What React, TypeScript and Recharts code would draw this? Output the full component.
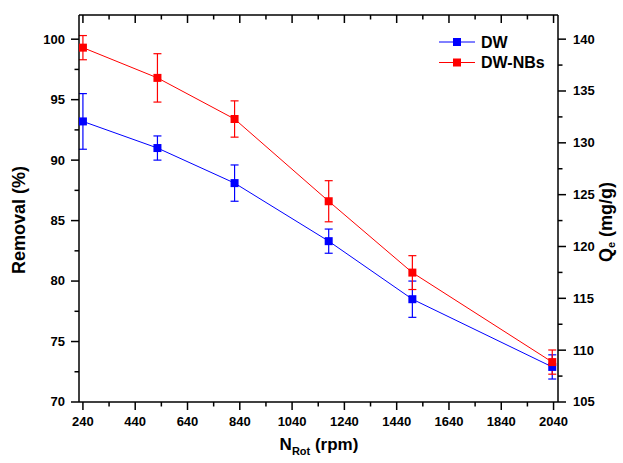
import { ComposedChart, Line, XAxis, YAxis, ErrorBar, Legend } from "recharts"

const rpm = [240, 525, 820, 1180, 1500, 2035]
const dwRemoval = [93.2, 91.0, 88.1, 83.3, 78.5, 72.9]
const dwError = [2.3, 1.0, 1.5, 1.0, 1.5, 1.0]
const nbRemoval = [99.3, 96.8, 93.4, 86.6, 80.7, 73.3]
const nbError = [1.0, 2.0, 1.5, 1.7, 1.4, 1.0]

const seriesNames = ["DW", "DW-NBs"]
const seriesColors = ["#0000ff", "#ff0000"]

const xTicks = [240, 340, 440, 540, 640, 740, 840, 940, 1040, 1140, 1240, 1340, 1440, 1540, 1640, 1740, 1840, 1940, 2040]
const removalTicks = [70, 72.5, 75, 77.5, 80, 82.5, 85, 87.5, 90, 92.5, 95, 97.5, 100]
const qeTicks = [105, 107.5, 110, 112.5, 115, 117.5, 120, 122.5, 125, 127.5, 130, 132.5, 135, 137.5, 140]

const FONT = "Arial, 'Liberation Sans', sans-serif"
const MAJOR = 8
const MINOR = 4.5

const data = rpm.map((x, i) => ({
  x,
  dw: dwRemoval[i],
  dwErr: dwError[i],
  nb: nbRemoval[i],
  nbErr: nbError[i],
}))

const isMajorX = (v: number) => (v - 240) % 200 === 0
const isMajorY = (v: number) => v % 5 === 0

function BottomTick({ x, y, payload }: any) {
  const major = isMajorX(payload.value)
  return (
    <g>
      <line x1={x} x2={x} y1={y} y2={y + (major ? MAJOR : MINOR)} stroke="#000" strokeWidth={1.5} />
      {major && (
        <text x={x} y={y + 24} textAnchor="middle" fontSize={13} fontWeight="bold" fontFamily={FONT} fill="#000">
          {payload.value}
        </text>
      )}
    </g>
  )
}

function TopTick({ x, y, payload }: any) {
  const major = isMajorX(payload.value)
  return <line x1={x} x2={x} y1={y} y2={y + (major ? MAJOR : MINOR)} stroke="#000" strokeWidth={1.5} />
}

function LeftTick({ x, y, payload }: any) {
  const major = isMajorY(payload.value)
  return (
    <g>
      <line x1={x} x2={x - (major ? MAJOR : MINOR)} y1={y} y2={y} stroke="#000" strokeWidth={1.5} />
      {major && (
        <text x={x - 14} y={y} dy="0.34em" textAnchor="end" fontSize={13} fontWeight="bold" fontFamily={FONT} fill="#000">
          {payload.value}
        </text>
      )}
    </g>
  )
}

function RightTick({ x, y, payload }: any) {
  const major = isMajorY(payload.value)
  return (
    <g>
      <line x1={x} x2={x + (major ? MAJOR : MINOR)} y1={y} y2={y} stroke="#000" strokeWidth={1.5} />
      {major && (
        <text x={x + 15} y={y} dy="0.34em" textAnchor="start" fontSize={13} fontWeight="bold" fontFamily={FONT} fill="#000">
          {payload.value}
        </text>
      )}
    </g>
  )
}

const squareDot = (color: string) => (props: any) => {
  const { cx, cy, index } = props
  if (cx == null || cy == null) return <g key={index} />
  return <rect key={index} x={cx - 4} y={cy - 4} width={8} height={8} fill={color} />
}

function LegendBox() {
  return (
    <svg width={130} height={44}>
      {seriesNames.map((name, i) => {
        const cy = 10 + i * 20.5
        return (
          <g key={name}>
            <line x1={3} x2={39} y1={cy} y2={cy} stroke={seriesColors[i]} strokeWidth={1} />
            <rect x={17} y={cy - 4} width={8} height={8} fill={seriesColors[i]} />
            <text x={45} y={cy} dy="0.35em" fontSize={16} fontWeight="bold" fontFamily={FONT} fill="#000">
              {name}
            </text>
          </g>
        )
      })}
    </svg>
  )
}

export default function App() {
  return (
    <div style={{ position: "absolute", left: 0, top: 0, width: 623, height: 463, background: "#fff" }}>
      <ComposedChart width={623} height={463} data={data} margin={{ top: 0, right: 0, bottom: 0, left: 0 }}>
        <XAxis
          dataKey="x"
          type="number"
          domain={[225, 2057]}
          allowDataOverflow
          ticks={xTicks}
          interval={0}
          height={61}
          tickSize={0}
          tickMargin={0}
          tickLine={false}
          tick={<BottomTick />}
          axisLine={{ stroke: "#000", strokeWidth: 1.5 }}
          label={{
            content: () => (
              <text x={319} y={450} textAnchor="middle" fontSize={17} fontWeight="bold" fontFamily={FONT} fill="#000">
                N
                <tspan fontSize={11} dy={5}>Rot</tspan>
                <tspan dy={-5}> (rpm)</tspan>
              </text>
            ),
          }}
        />
        <XAxis
          xAxisId="top"
          orientation="top"
          dataKey="x"
          type="number"
          domain={[225, 2057]}
          allowDataOverflow
          ticks={xTicks}
          interval={0}
          height={15}
          tickSize={0}
          tickMargin={0}
          tickLine={false}
          tick={<TopTick />}
          axisLine={{ stroke: "#000", strokeWidth: 1.5 }}
        />
        <YAxis
          yAxisId="left"
          type="number"
          domain={[70, 102]}
          allowDataOverflow
          ticks={removalTicks}
          interval={0}
          width={79}
          tickSize={0}
          tickMargin={0}
          tickLine={false}
          tick={<LeftTick />}
          axisLine={{ stroke: "#000", strokeWidth: 1.5 }}
          label={{
            content: () => (
              <text
                x={19}
                y={220}
                transform="rotate(-90, 19, 220)"
                textAnchor="middle"
                dominantBaseline="central"
                fontSize={18}
                fontWeight="bold"
                fontFamily={FONT}
                fill="#000"
              >
                Removal (%)
              </text>
            ),
          }}
        />
        <YAxis
          yAxisId="right"
          orientation="right"
          type="number"
          domain={[105, 142.33]}
          allowDataOverflow
          ticks={qeTicks}
          interval={0}
          width={65}
          tickSize={0}
          tickMargin={0}
          tickLine={false}
          tick={<RightTick />}
          axisLine={{ stroke: "#000", strokeWidth: 1.5 }}
          label={{
            content: () => (
              <text
                x={606}
                y={222}
                transform="rotate(-90, 606, 222)"
                textAnchor="middle"
                dominantBaseline="central"
                fontSize={18}
                fontWeight="bold"
                fontFamily={FONT}
                fill="#000"
              >
                Q
                <tspan fontSize={11} dy={5}>e</tspan>
                <tspan dy={-5}> (mg/g)</tspan>
              </text>
            ),
          }}
        />
        <Legend
          layout="vertical"
          align="center"
          verticalAlign="middle"
          wrapperStyle={{ position: "absolute", left: 436, top: 32, width: 130 }}
          content={() => <LegendBox />}
        />
        {/* invisible series so the top frame axis and the Qe axis get drawn */}
        <Line
          xAxisId="top"
          yAxisId="right"
          dataKey="dw"
          stroke="none"
          dot={false}
          activeDot={false}
          legendType="none"
          isAnimationActive={false}
        />
        <Line
          yAxisId="left"
          dataKey="dw"
          name={seriesNames[0]}
          stroke={seriesColors[0]}
          strokeWidth={1}
          dot={squareDot(seriesColors[0])}
          activeDot={false}
          isAnimationActive={false}
        >
          <ErrorBar dataKey="dwErr" direction="y" width={4} stroke={seriesColors[0]} strokeWidth={1.2} isAnimationActive={false} />
        </Line>
        <Line
          yAxisId="left"
          dataKey="nb"
          name={seriesNames[1]}
          stroke={seriesColors[1]}
          strokeWidth={1}
          dot={squareDot(seriesColors[1])}
          activeDot={false}
          isAnimationActive={false}
        >
          <ErrorBar dataKey="nbErr" direction="y" width={4} stroke={seriesColors[1]} strokeWidth={1.2} isAnimationActive={false} />
        </Line>
      </ComposedChart>
    </div>
  )
}
